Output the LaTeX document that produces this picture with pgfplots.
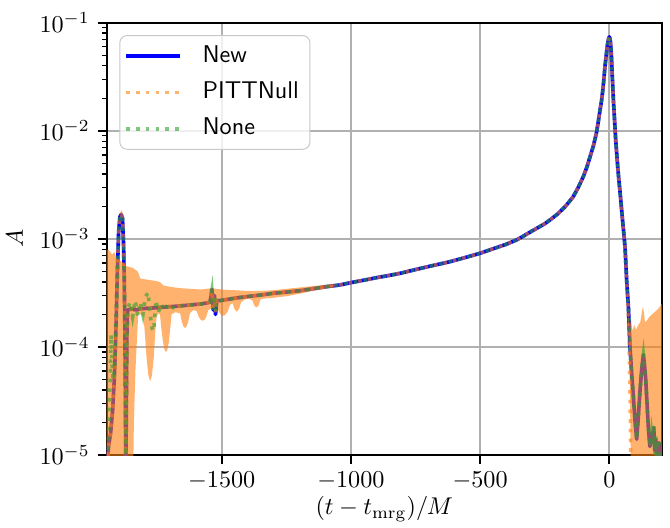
\documentclass[border=0pt]{standalone}
\usepackage{pgfplots}
\pgfplotsset{compat=1.18}
\usepackage{pgfplotstable}
\definecolor{mplorange}{HTML}{FF7F0E}
\definecolor{mplgreen}{HTML}{2CA02C}
\definecolor{gridgray}{HTML}{B0B0B0}

\pgfplotstableread{
t A
-1945 8e-6
-1938 1.2e-5
-1930 1.6e-5
-1922 2.6e-5
-1915 5.5e-5
-1909 1.6e-4
-1904 4.8e-4
-1899 1.15e-3
-1894 1.6e-3
-1889 1.68e-3
-1884 1.55e-3
-1880 9e-4
-1877 4e-4
-1875 1.6e-4
-1873 4e-5
-1871 6e-6
-1869 3e-5
-1867 1.3e-4
-1864 2.2e-4
-1850 2.24e-4
-1830 2.2e-4
-1816 2.25e-4
-1790 2.28e-4
-1760 2.3e-4
-1730 2.33e-4
-1700 2.36e-4
-1660 2.4e-4
-1620 2.45e-4
-1580 2.5e-4
-1560 2.55e-4
-1545 2.6e-4
-1538 3.4e-4
-1533 2.2e-4
-1528 3.0e-4
-1524 2.0e-4
-1519 2.7e-4
-1510 2.68e-4
-1480 2.75e-4
-1440 2.85e-4
-1400 2.93e-4
-1352 3.02e-4
-1300 3.14e-4
-1250 3.22e-4
-1197 3.32e-4
-1150 3.45e-4
-1100 3.6e-4
-1042 3.75e-4
-1000 3.94e-4
-950 4.15e-4
-900 4.38e-4
-850 4.6e-4
-810 4.8e-4
-750 5.2e-4
-700 5.55e-4
-650 5.9e-4
-617 6.15e-4
-560 6.7e-4
-500 7.36e-4
-450 8.1e-4
-400 8.9e-4
-358 9.8e-4
-330 1.07e-3
-300 1.18e-3
-269 1.3e-3
-250 1.38e-3
-229 1.5e-3
-200 1.7e-3
-170 2.0e-3
-140 2.45e-3
-120 3.0e-3
-100 3.8e-3
-87 4.6e-3
-75 5.7e-3
-62 7.2e-3
-50 9.5e-3
-43 1.2e-2
-36 1.55e-2
-30 1.9e-2
-25 2.4e-2
-21 3.0e-2
-17 3.9e-2
-13 4.7e-2
-10 5.5e-2
-7 6.3e-2
-4 6.9e-2
-2 7.25e-2
0 7.4e-2
2 7.2e-2
4 6.8e-2
6 6.0e-2
9 4.5e-2
12 3.0e-2
16 1.9e-2
20 1.3e-2
25 8e-3
29 6e-3
33 4.5e-3
37 3.5e-3
41 2.8e-3
45 2.2e-3
50 1.6e-3
55 1.2e-3
61 8.3e-4
67 4.2e-4
74 2.3e-4
80 1.0e-4
87 5.5e-5
93 3.5e-5
100 2.0e-5
106 1.4e-5
112 2.2e-5
119 4e-5
126 6.5e-5
132 8.5e-5
137 6.5e-5
141 5e-5
146 3e-5
151 1.8e-5
157 1.2e-5
163 1.6e-5
168 1.3e-5
172 1.8e-5
176 1.1e-5
180 1.4e-5
186 8e-6
192 1.3e-5
198 9e-6
203 1.2e-5
}\newdata

\pgfplotstableread{
t A
-1945 8e-6
-1938 1.2e-5
-1930 1.6e-5
-1922 2.6e-5
-1915 5.5e-5
-1909 1.6e-4
-1904 4.8e-4
-1899 1.15e-3
-1894 1.6e-3
-1889 1.68e-3
-1884 1.55e-3
-1880 9e-4
-1877 4e-4
-1875 1.6e-4
-1873 4e-5
-1871 6e-6
-1869 3e-5
-1867 1.3e-4
-1864 2.2e-4
-1850 2.24e-4
-1830 2.2e-4
-1816 2.25e-4
-1790 2.28e-4
-1760 2.3e-4
-1730 2.33e-4
-1700 2.36e-4
-1660 2.4e-4
-1620 2.45e-4
-1580 2.5e-4
-1560 2.55e-4
-1545 2.6e-4
-1538 3.3e-4
-1533 2.3e-4
-1528 2.9e-4
-1524 2.1e-4
-1519 2.7e-4
-1510 2.68e-4
-1480 2.75e-4
-1440 2.85e-4
-1400 2.93e-4
-1352 3.02e-4
-1300 3.14e-4
-1250 3.22e-4
-1197 3.32e-4
-1150 3.45e-4
-1100 3.6e-4
-1042 3.75e-4
-1000 3.94e-4
-950 4.15e-4
-900 4.38e-4
-850 4.6e-4
-810 4.8e-4
-750 5.2e-4
-700 5.55e-4
-650 5.9e-4
-617 6.15e-4
-560 6.7e-4
-500 7.36e-4
-450 8.1e-4
-400 8.9e-4
-358 9.8e-4
-330 1.07e-3
-300 1.18e-3
-269 1.3e-3
-250 1.38e-3
-229 1.5e-3
-200 1.7e-3
-170 2.0e-3
-140 2.45e-3
-120 3.0e-3
-100 3.8e-3
-87 4.6e-3
-75 5.7e-3
-62 7.2e-3
-50 9.5e-3
-43 1.2e-2
-36 1.55e-2
-30 1.9e-2
-25 2.4e-2
-21 3.0e-2
-17 3.9e-2
-13 4.7e-2
-10 5.5e-2
-7 6.3e-2
-4 6.9e-2
-2 7.25e-2
0 7.4e-2
2 7.2e-2
4 6.8e-2
6 6.0e-2
9 4.5e-2
12 3.0e-2
16 1.9e-2
20 1.3e-2
25 8e-3
29 6e-3
33 4.5e-3
37 3.5e-3
41 2.8e-3
45 2.2e-3
50 1.6e-3
55 1.2e-3
61 8.3e-4
67 4.2e-4
72 2.6e-4
76 1.3e-4
80 4e-5
84 6e-6
}\pittdata

\pgfplotstableread{
t A
-1945 6e-6
-1940 1.0e-5
-1935 2.5e-5
-1931 6e-5
-1928 1.3e-4
-1925 7e-5
-1920 5e-5
-1915 6e-5
-1909 1.6e-4
-1904 4.8e-4
-1899 1.15e-3
-1894 1.6e-3
-1889 1.68e-3
-1884 1.55e-3
-1880 9e-4
-1877 4e-4
-1875 1.6e-4
-1873 4e-5
-1871 8e-6
-1869 3e-5
-1867 1.3e-4
-1864 2.2e-4
-1855 2.6e-4
-1845 1.9e-4
-1835 2.7e-4
-1825 1.95e-4
-1815 2.6e-4
-1805 2.0e-4
-1795 2.9e-4
-1785 3.2e-4
-1777 2.0e-4
-1770 1.5e-4
-1763 1.4e-4
-1755 2.7e-4
-1745 2.1e-4
-1735 2.5e-4
-1722 2.15e-4
-1708 2.45e-4
-1695 2.25e-4
-1680 2.4e-4
-1660 2.4e-4
-1620 2.45e-4
-1580 2.5e-4
-1560 2.55e-4
-1545 2.6e-4
-1538 3.3e-4
-1533 2.2e-4
-1528 3.0e-4
-1524 2.1e-4
-1519 2.7e-4
-1510 2.68e-4
-1480 2.75e-4
-1440 2.85e-4
-1400 2.93e-4
-1352 3.02e-4
-1300 3.14e-4
-1250 3.22e-4
-1197 3.32e-4
-1150 3.45e-4
-1100 3.6e-4
-1042 3.75e-4
-1000 3.94e-4
-950 4.15e-4
-900 4.38e-4
-850 4.6e-4
-810 4.8e-4
-750 5.2e-4
-700 5.55e-4
-650 5.9e-4
-617 6.15e-4
-560 6.7e-4
-500 7.36e-4
-450 8.1e-4
-400 8.9e-4
-358 9.8e-4
-330 1.07e-3
-300 1.18e-3
-269 1.3e-3
-250 1.38e-3
-229 1.5e-3
-200 1.7e-3
-170 2.0e-3
-140 2.45e-3
-120 3.0e-3
-100 3.8e-3
-87 4.6e-3
-75 5.7e-3
-62 7.2e-3
-50 9.5e-3
-43 1.2e-2
-36 1.55e-2
-30 1.9e-2
-25 2.4e-2
-21 3.0e-2
-17 3.9e-2
-13 4.7e-2
-10 5.5e-2
-7 6.3e-2
-4 6.9e-2
-2 7.25e-2
0 7.4e-2
2 7.2e-2
4 6.8e-2
6 6.0e-2
9 4.5e-2
12 3.0e-2
16 1.9e-2
20 1.3e-2
25 8e-3
29 6e-3
33 4.5e-3
37 3.5e-3
41 2.8e-3
45 2.2e-3
50 1.6e-3
55 1.2e-3
61 8.3e-4
67 4.2e-4
74 2.3e-4
80 1.0e-4
87 5.5e-5
93 3.5e-5
100 2.0e-5
106 1.4e-5
112 2.2e-5
119 4e-5
126 6.5e-5
132 8.5e-5
137 6.5e-5
141 5e-5
146 3e-5
151 1.8e-5
157 1.2e-5
163 1.6e-5
168 1.2e-5
172 1.9e-5
176 1.0e-5
180 1.5e-5
186 8e-6
192 1.4e-5
198 9e-6
203 1.1e-5
}\nonedata

% envelope of the fast PITTNull oscillations (left)
\pgfplotstableread{
t A
-1945 8e-4
-1935 7.8e-4
-1925 7.2e-4
-1915 7.5e-4
-1905 6.5e-4
-1880 6e-4
-1870 5.6e-4
-1845 5.4e-4
-1825 5.0e-4
-1815 4.3e-4
-1790 4.2e-4
-1760 4.1e-4
-1740 4.0e-4
-1725 3.7e-4
-1700 3.6e-4
-1660 3.5e-4
-1620 3.45e-4
-1580 3.4e-4
-1540 3.5e-4
-1500 3.4e-4
-1450 3.35e-4
-1400 3.3e-4
-1350 3.3e-4
-1300 3.35e-4
-1250 3.45e-4
-1200 3.55e-4
-1150 3.65e-4
-1100 3.75e-4
-1060 3.8e-4
-1060 3.65e-4
-1100 3.45e-4
-1150 3.3e-4
-1200 3.1e-4
-1250 2.95e-4
-1300 2.85e-4
-1340 2.8e-4
-1350 2.75e-4
-1358 2.4e-4
-1365 2.32e-4
-1373 2.4e-4
-1382 2.7e-4
-1395 2.8e-4
-1410 2.75e-4
-1425 2.6e-4
-1433 2.25e-4
-1442 2.12e-4
-1451 2.25e-4
-1458 2.55e-4
-1468 2.45e-4
-1478 2.1e-4
-1490 1.95e-4
-1500 1.95e-4
-1510 2.1e-4
-1519 2.35e-4
-1535 2.3e-4
-1552 2.2e-4
-1560 1.9e-4
-1567 1.78e-4
-1574 1.75e-4
-1581 1.78e-4
-1589 1.9e-4
-1597 2.15e-4
-1610 2.2e-4
-1623 2.05e-4
-1630 1.7e-4
-1636 1.55e-4
-1642 1.5e-4
-1648 1.55e-4
-1654 1.7e-4
-1661 2.05e-4
-1680 2.1e-4
-1694 2.0e-4
-1699 1.5e-4
-1705 1.1e-4
-1711 9.3e-5
-1716 9e-5
-1722 9.5e-5
-1728 1.15e-4
-1734 1.5e-4
-1739 2.0e-4
-1745 2.05e-4
-1752 1.9e-4
-1757 1.4e-4
-1763 8e-5
-1770 5.5e-5
-1777 4.8e-5
-1784 5.5e-5
-1791 8e-5
-1797 1.3e-4
-1803 1.9e-4
-1810 2.0e-4
-1823 2.0e-4
-1828 1.2e-4
-1834 6e-5
-1840 2e-5
-1844 4e-6
-1945 4e-6
}\pittleft

% envelope of the fast PITTNull oscillations (right)
\pgfplotstableread{
t A
70 3.4e-4
74 2.0e-4
78 1.5e-4
84 1.8e-4
90 1.4e-4
96 1.6e-4
104 1.45e-4
112 1.6e-4
120 1.7e-4
126 2.1e-4
130 2.35e-4
134 2.1e-4
138 1.7e-4
145 1.75e-4
155 1.9e-4
165 2.0e-4
175 2.1e-4
185 2.2e-4
195 2.35e-4
203 2.5e-4
203 4e-6
84 4e-6
80 4e-5
74 1.3e-4
70 3e-4
}\pittright

\begin{document}
\begin{tikzpicture}
\begin{axis}[
  scale only axis, width=229.3pt, height=178.6pt,
  xmin=-1945, xmax=203, ymin=1e-5, ymax=1e-1, ymode=log,
  xtick={-1500,-1000,-500,0},
  /pgf/number format/1000 sep={},
  xmajorgrids, ymajorgrids,
  major grid style={gridgray, line width=0.8pt},
  axis line style={line width=0.8pt},
  tick align=outside, tick pos=left,
  major tick length=3.5pt, minor tick length=2pt,
  every tick/.style={black, line width=0.8pt},
  minor tick style={line width=0.6pt},
  xlabel={$(t-t_{\mathrm{mrg}})/M$}, ylabel={$A$},
  xlabel style={yshift=4pt},
  legend cell align=left,
  legend image code/.code={\draw[#1] (0pt,0pt) -- (22pt,0pt);},
  legend style={at={(0.0227,0.9715)}, anchor=north west,
    font=\sffamily, draw=gridgray!70, rounded corners=3pt,
    fill=white, fill opacity=0.8, text opacity=1,
    inner xsep=2pt, inner ysep=1.5pt,
    nodes={text height=7pt, text depth=2pt, inner sep=2.5pt},
    row sep=1pt},
  /tikz/every odd column/.append style={column sep=6.2pt},
]
\addplot[blue, line width=1.5pt, line join=round] table[x=t,y=A] {\newdata};
\addlegendentry{New}
\addplot[fill=mplorange, fill opacity=0.6, draw=none, forget plot] table[x=t,y=A] {\pittleft};
\addplot[fill=mplorange, fill opacity=0.6, draw=none, forget plot] table[x=t,y=A] {\pittright};
\addplot[mplorange, opacity=0.6, line width=1.5pt, dash pattern=on 1.5pt off 2.5pt] table[x=t,y=A] {\pittdata};
\addlegendentry{PITTNull}
\addplot[mplgreen, opacity=0.6, line width=1.5pt, dash pattern=on 1.5pt off 2.5pt] table[x=t,y=A] {\nonedata};
\addlegendentry{None}
\end{axis}
\pgfresetboundingbox
\path[use as bounding box] ([xshift=-44.1pt,yshift=-29.75pt]current axis.south west) rectangle ([xshift=3.4pt,yshift=9.4pt]current axis.north east);
\end{tikzpicture}
\end{document}
